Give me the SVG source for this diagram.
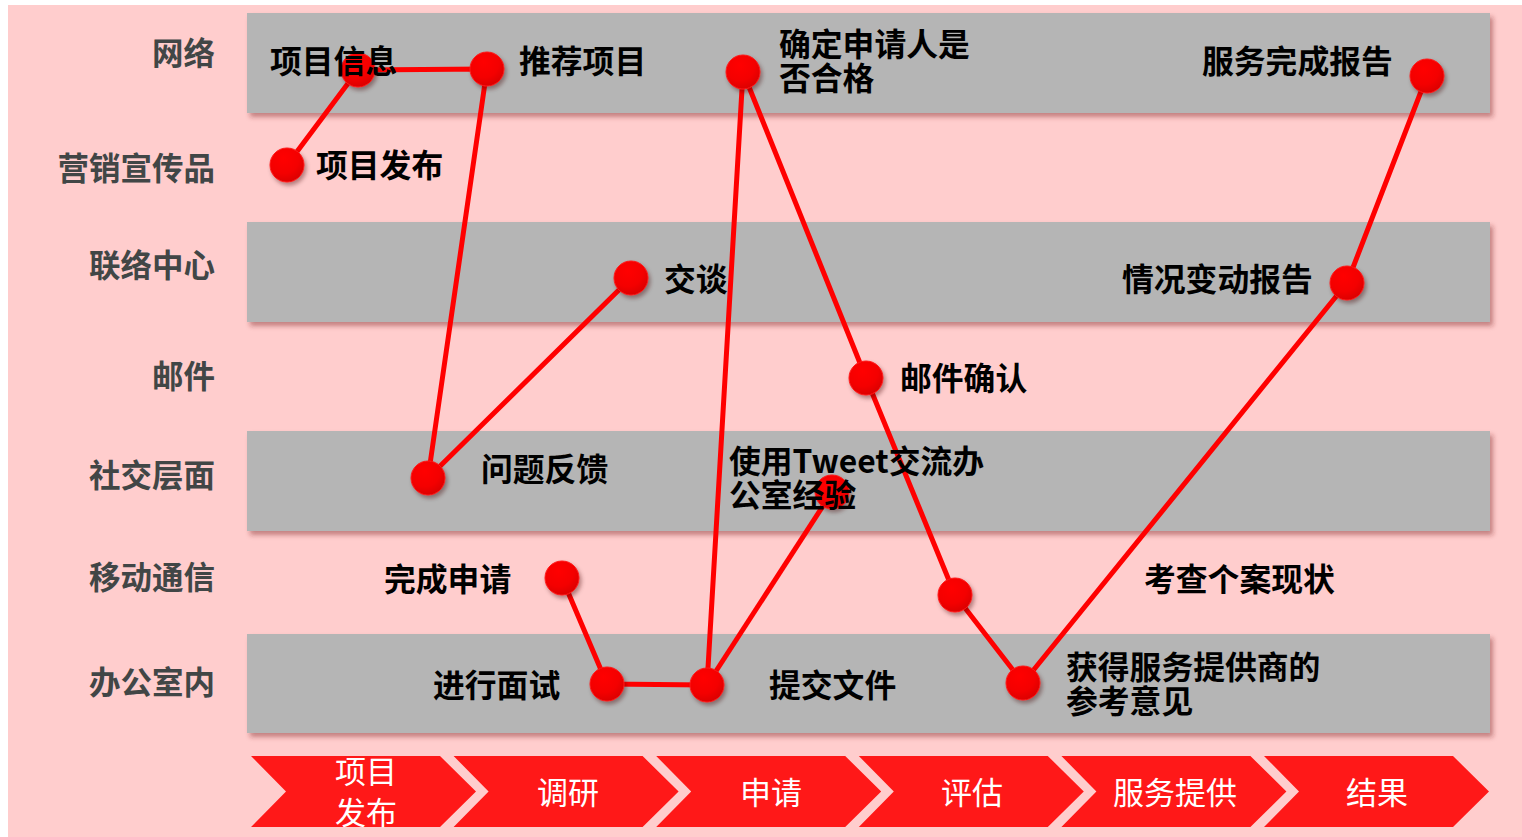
<svg xmlns="http://www.w3.org/2000/svg" width="1522" height="837" viewBox="0 0 1522 837">
<defs>
<style>
.band{fill:#b5b5b5;filter:url(#bandShadow)}
.chev{fill:#ff1818}
.row{font-family:"Noto Sans CJK SC","Noto Sans",sans-serif;font-weight:700;font-size:31.5px;fill:#414646;text-anchor:end}
.lbl{font-family:"Noto Sans CJK SC","Noto Sans",sans-serif;font-weight:700;font-size:31.8px;fill:#000}
.ph{font-family:"Noto Sans CJK SC","Noto Sans",sans-serif;font-weight:400;font-size:31px;fill:#fff;text-anchor:middle}
.link{stroke:#ff0000;stroke-width:5;fill:none;stroke-linejoin:round}
.dot{fill:url(#dotGrad);stroke:#ff1a1a;stroke-width:1;filter:url(#dotShadow)}
</style>
<radialGradient id="dotGrad" cx="0.4" cy="0.3" r="0.75">
<stop offset="0" stop-color="#ff0000"/>
<stop offset="0.6" stop-color="#f40000"/>
<stop offset="1" stop-color="#d80000"/>
</radialGradient>
<filter id="bandShadow" x="-5%" y="-20%" width="110%" height="150%">
<feDropShadow dx="3" dy="4" stdDeviation="2.5" flood-color="#7a2020" flood-opacity="0.45"/>
</filter>
<filter id="dotShadow" x="-50%" y="-50%" width="200%" height="200%">
<feDropShadow dx="2" dy="3" stdDeviation="2" flood-color="#400000" flood-opacity="0.4"/>
</filter>
</defs>
<rect x="0" y="0" width="1522" height="837" fill="#ffffff"/>
<rect x="8" y="5" width="1514" height="832" fill="#ffcdcd"/>

<g id="bands">
<rect class="band" x="247" y="13" width="1243" height="100"/>
<rect class="band" x="247" y="222" width="1243" height="100"/>
<rect class="band" x="247" y="431" width="1243" height="100"/>
<rect class="band" x="247" y="634" width="1243" height="99"/>
</g>

<g id="row-labels">
<text class="row" x="215" y="65">网络</text>
<text class="row" x="215" y="180">营销宣传品</text>
<text class="row" x="215" y="277">联络中心</text>
<text class="row" x="215" y="388">邮件</text>
<text class="row" x="215" y="487">社交层面</text>
<text class="row" x="215" y="589">移动通信</text>
<text class="row" x="215" y="694">办公室内</text>
</g>

<g id="phases">
<g id="phase-1"><polygon class="chev" points="251,756 440,756 476,791.5 440,827 251,827 286,791.5"/><text class="ph" x="366" y="783">项目<tspan x="366" dy="41">发布</tspan></text></g>
<g id="phase-2"><polygon class="chev" points="453.6,756 642.6,756 678.6,791.5 642.6,827 453.6,827 488.6,791.5"/><text class="ph" x="568" y="804">调研</text></g>
<g id="phase-3"><polygon class="chev" points="656.2,756 845.2,756 881.2,791.5 845.2,827 656.2,827 691.2,791.5"/><text class="ph" x="771" y="804">申请</text></g>
<g id="phase-4"><polygon class="chev" points="858.8,756 1047.8,756 1083.8,791.5 1047.8,827 858.8,827 893.8,791.5"/><text class="ph" x="972" y="804">评估</text></g>
<g id="phase-5"><polygon class="chev" points="1061.4,756 1250.4,756 1286.4,791.5 1250.4,827 1061.4,827 1096.4,791.5"/><text class="ph" x="1175" y="804">服务提供</text></g>
<g id="phase-6"><polygon class="chev" points="1264,756 1453,756 1489,791.5 1453,827 1264,827 1299,791.5"/><text class="ph" x="1377" y="804">结果</text></g>
</g>

<g id="connectors">
<polyline class="link" points="287,165 358,70 487,69 428,478 631,278"/>
<polyline class="link" points="562,578 607,684 707,685 743,72 866,378 955,595 1023,683 1347,283 1427,76"/>
<line class="link" x1="707" y1="685" x2="832" y2="492"/>
</g>

<g id="n-xmfb"><circle class="dot" cx="287" cy="165" r="17"/><text class="lbl" x="316" y="177">项目发布</text></g>
<g id="n-xmxx"><circle class="dot" cx="358" cy="70" r="17"/><text class="lbl" x="270" y="73">项目信息</text></g>
<g id="n-tjxm"><circle class="dot" cx="487" cy="69" r="17"/><text class="lbl" x="519" y="73">推荐项目</text></g>
<g id="n-wtfk"><circle class="dot" cx="428" cy="478" r="17"/><text class="lbl" x="481" y="481">问题反馈</text></g>
<g id="n-jt"><circle class="dot" cx="631" cy="278" r="17"/><text class="lbl" x="664" y="291">交谈</text></g>
<g id="n-wcsq"><circle class="dot" cx="562" cy="578" r="17"/><text class="lbl" x="384" y="591">完成申请</text></g>
<g id="n-jxms"><circle class="dot" cx="607" cy="684" r="17"/><text class="lbl" x="433" y="697">进行面试</text></g>
<g id="n-tjwj"><circle class="dot" cx="707" cy="685" r="17"/><text class="lbl" x="769" y="697">提交文件</text></g>
<g id="n-qdsq"><circle class="dot" cx="743" cy="72" r="17"/><text class="lbl" x="779" y="56">确定申请人是<tspan x="779" dy="34">否合格</tspan></text></g>
<g id="n-yjqr"><circle class="dot" cx="866" cy="378" r="17"/><text class="lbl" x="900" y="390">邮件确认</text></g>
<g id="n-tweet"><circle class="dot" cx="832" cy="492" r="17"/><text class="lbl" x="729" y="473">使用Tweet交流办<tspan x="729" dy="34">公室经验</tspan></text></g>
<g id="n-kcga"><circle class="dot" cx="955" cy="595" r="17"/><text class="lbl" x="1144" y="591">考查个案现状</text></g>
<g id="n-hdfw"><circle class="dot" cx="1023" cy="683" r="17"/><text class="lbl" x="1066" y="679">获得服务提供商的<tspan x="1066" dy="34">参考意见</tspan></text></g>
<g id="n-qkbd"><circle class="dot" cx="1347" cy="283" r="17"/><text class="lbl" x="1122" y="291">情况变动报告</text></g>
<g id="n-fwwc"><circle class="dot" cx="1427" cy="76" r="17"/><text class="lbl" x="1202" y="73">服务完成报告</text></g>
</svg>
